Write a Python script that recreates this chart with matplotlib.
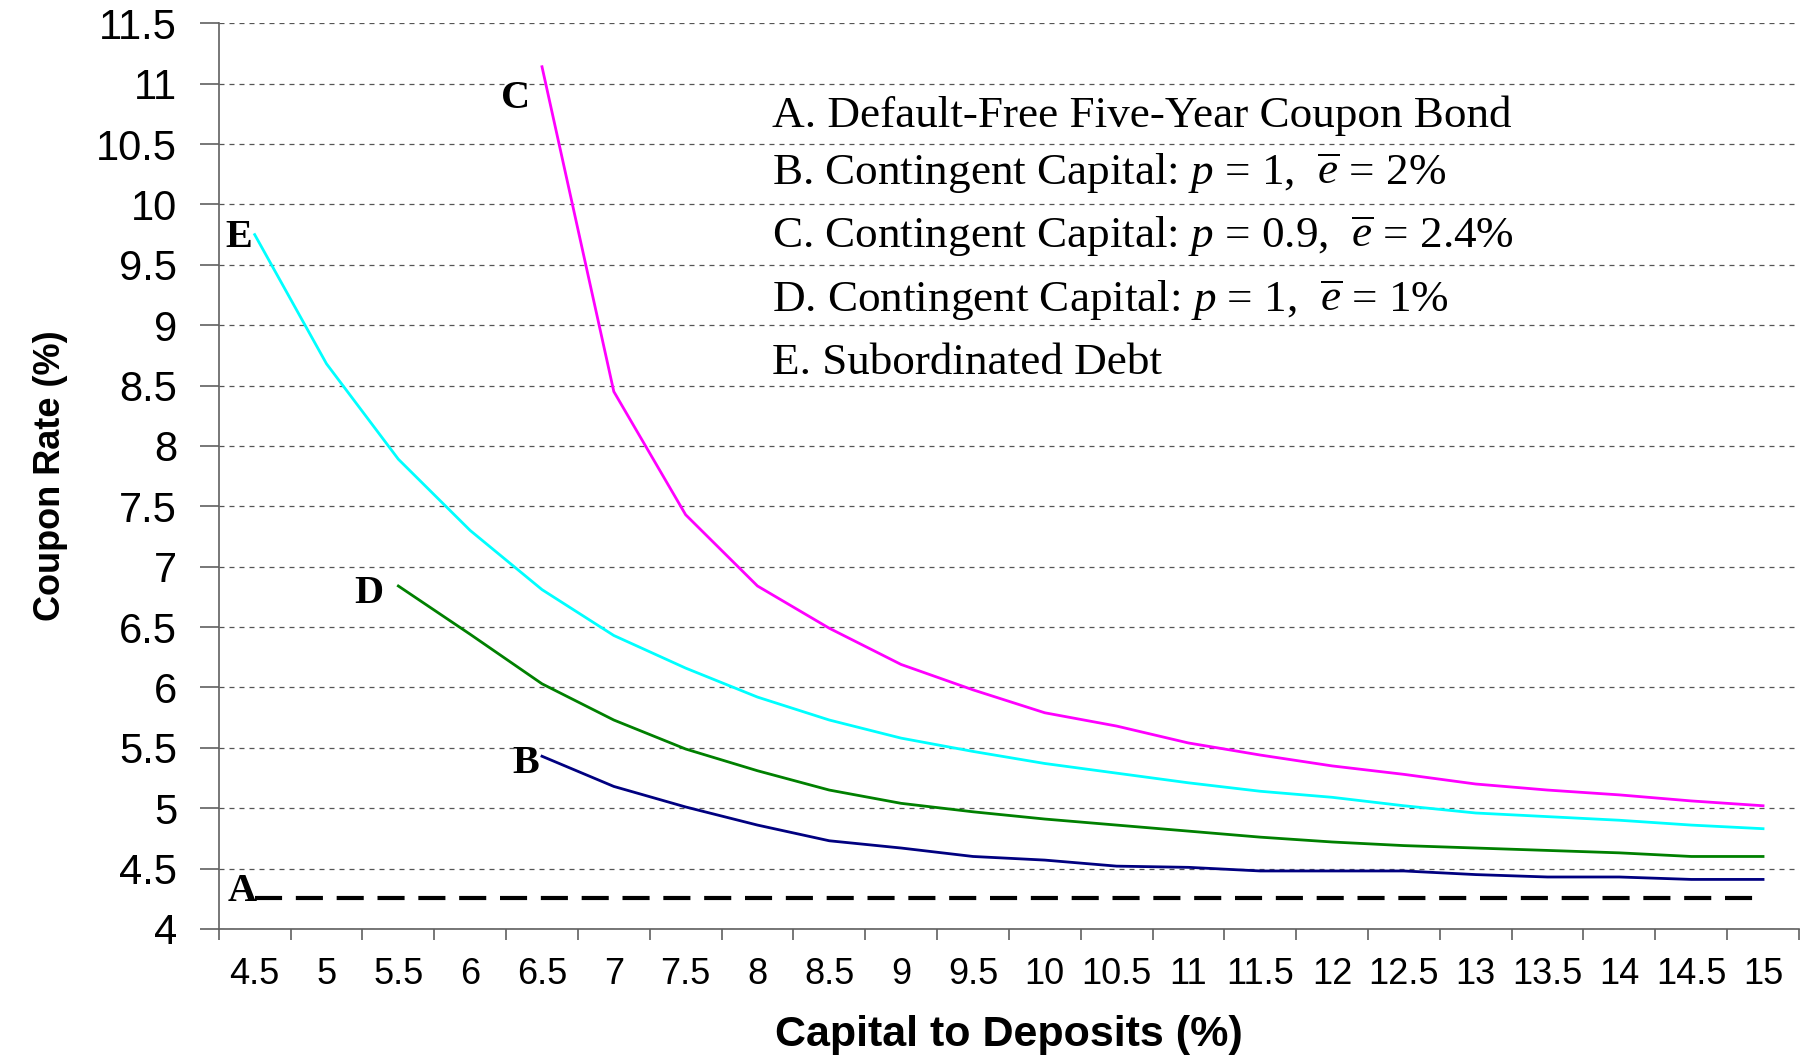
import matplotlib
matplotlib.use("Agg")
import matplotlib.pyplot as plt

plt.rcParams['mathtext.fontset'] = 'custom'
plt.rcParams['mathtext.rm'] = 'Liberation Serif'
plt.rcParams['mathtext.it'] = 'Liberation Serif:italic'

# capital to deposits categories (%)
categories = ["4.5", "5", "5.5", "6", "6.5", "7", "7.5", "8", "8.5", "9", "9.5",
              "10", "10.5", "11", "11.5", "12", "12.5", "13", "13.5", "14", "14.5", "15"]

# A. default-free bond, flat
rate_a = [4.26] * 22
# B. contingent capital p=1, e=2%  (starts at 6.5)
rate_b = [5.43, 5.18, 5.01, 4.86, 4.73, 4.67, 4.60, 4.57, 4.52, 4.51, 4.48,
          4.48, 4.48, 4.45, 4.43, 4.43, 4.41, 4.41]
# C. contingent capital p=0.9, e=2.4%  (starts at 6.5)
rate_c = [11.14, 8.45, 7.43, 6.84, 6.49, 6.19, 5.98, 5.79, 5.68, 5.54, 5.44,
          5.35, 5.28, 5.20, 5.15, 5.11, 5.06, 5.02]
# D. contingent capital p=1, e=1%  (starts at 5.5)
rate_d = [6.84, 6.44, 6.03, 5.73, 5.49, 5.31, 5.15, 5.04, 4.97, 4.91, 4.86,
          4.81, 4.76, 4.72, 4.69, 4.67, 4.65, 4.63, 4.60, 4.60]
# E. subordinated debt (starts at 4.5)
rate_e = [9.75, 8.68, 7.89, 7.30, 6.81, 6.43, 6.16, 5.92, 5.73, 5.58, 5.47,
          5.37, 5.29, 5.21, 5.14, 5.09, 5.02, 4.96, 4.93, 4.90, 4.86, 4.83]

legend_lines = [
    "A. Default-Free Five-Year Coupon Bond",
    r"B. Contingent Capital: $p$ = 1,  $\overline{e}$ = 2%",
    r"C. Contingent Capital: $p$ = 0.9,  $\overline{e}$ = 2.4%",
    r"D. Contingent Capital: $p$ = 1,  $\overline{e}$ = 1%",
    "E. Subordinated Debt",
]

n = len(categories)
x_all = list(range(n))

fig = plt.figure(figsize=(18.08, 10.58), dpi=100)
ax = fig.add_axes([0.121, 0.122, 0.874, 0.856])

ax.plot(x_all, rate_a, color='black', lw=3, dashes=(6.5, 3.3))
ax.plot(x_all[n - len(rate_b):], rate_b, color='#000080', lw=2)
ax.plot(x_all[n - len(rate_c):], rate_c, color='#FF00FF', lw=2)
ax.plot(x_all[n - len(rate_d):], rate_d, color='#008000', lw=2)
ax.plot(x_all[n - len(rate_e):], rate_e, color='#00FFFF', lw=2)

ax.set_xlim(-0.5, n - 0.5)
ax.set_ylim(4, 11.5)
ax.set_yticks([4 + 0.5 * k for k in range(16)])
ax.set_yticklabels([f"{4 + 0.5 * k:g}" for k in range(16)], fontsize=30,
                   family='Liberation Sans')
ax.set_xticks(x_all)
ax.set_xticklabels(categories, fontsize=26, family='Liberation Sans')
ax.set_xticks([k - 0.5 for k in range(n + 1)], minor=True)
ax.tick_params(axis='x', which='major', length=0, pad=20)
ax.tick_params(axis='x', which='minor', length=8, color='#606060', width=1.2)
ax.tick_params(axis='y', length=14, color='#606060', width=1.2, pad=16)

ax.yaxis.grid(True, linestyle=(0, (4, 4)), color='#555555', lw=0.9)
ax.set_axisbelow(True)
for s in ['top', 'right']:
    ax.spines[s].set_visible(False)
for s in ['left', 'bottom']:
    ax.spines[s].set_color('#606060')
    ax.spines[s].set_linewidth(1.2)

ax.set_xlabel("Capital to Deposits (%)", fontsize=31, fontweight='bold',
              family='Liberation Sans', labelpad=17)
ax.set_ylabel("Coupon Rate (%)", fontsize=26, fontweight='bold',
              family='Liberation Sans', labelpad=20)

# curve letters
serif_bold = dict(fontsize=29, fontweight='bold', family='Liberation Serif',
                  ha='center', va='center')
ax.text(-0.22, 9.73, "E", **serif_bold)
ax.text(3.63, 10.88, "C", **serif_bold)
ax.text(1.59, 6.78, "D", **serif_bold)
ax.text(3.77, 5.37, "B", **serif_bold)
ax.text(-0.18, 4.31, "A", **serif_bold)

# legend text block
ys = [0.891, 0.836, 0.777, 0.716, 0.657]
for txt, yy in zip(legend_lines, ys):
    fig.text(0.427, yy, txt, fontsize=32.5, family='Liberation Serif',
             ha='left', va='center')

fig.savefig("out.png", dpi=100)
